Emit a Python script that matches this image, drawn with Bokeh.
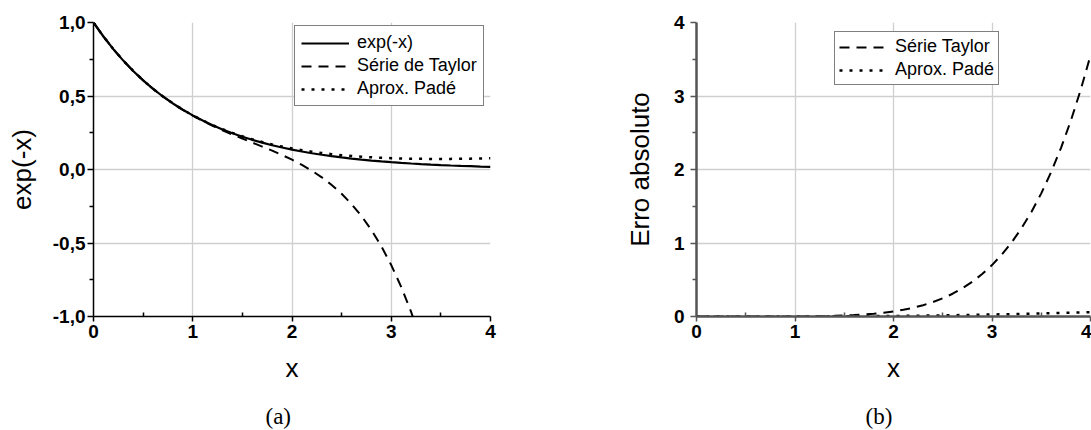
from bokeh.plotting import figure
from bokeh.models import Range1d, FixedTicker, CustomJSTickFormatter, Legend, LegendItem, Title
from bokeh.layouts import row
from bokeh.embed import file_html
from bokeh.resources import INLINE

# ---- data ----
x = [0.0, 0.1, 0.2, 0.3, 0.4, 0.5, 0.6, 0.7, 0.8, 0.9,
     1.0, 1.1, 1.2, 1.3, 1.4, 1.5, 1.6, 1.7, 1.8, 1.9,
     2.0, 2.1, 2.2, 2.3, 2.4, 2.5, 2.6, 2.7, 2.8, 2.9,
     3.0, 3.1, 3.2, 3.3, 3.4, 3.5, 3.6, 3.7, 3.8, 3.9, 4.0]

exp_vals = [1.0, 0.9048, 0.8187, 0.7408, 0.6703, 0.6065, 0.5488, 0.4966, 0.4493, 0.4066,
            0.3679, 0.3329, 0.3012, 0.2725, 0.2466, 0.2231, 0.2019, 0.1827, 0.1653, 0.1496,
            0.1353, 0.1225, 0.1108, 0.1003, 0.0907, 0.0821, 0.0743, 0.0672, 0.0608, 0.0550,
            0.0498, 0.0450, 0.0408, 0.0369, 0.0334, 0.0302, 0.0273, 0.0247, 0.0224, 0.0202, 0.0183]

taylor_x = [0.0, 0.1, 0.2, 0.3, 0.4, 0.5, 0.6, 0.7, 0.8, 0.9,
            1.0, 1.1, 1.2, 1.3, 1.4, 1.5, 1.6, 1.7, 1.8, 1.9,
            2.0, 2.1, 2.2, 2.3, 2.4, 2.5, 2.6, 2.7, 2.8, 2.9,
            3.0, 3.1, 3.2, 3.3]
taylor_vals = [1.0, 0.9048, 0.8187, 0.7408, 0.6703, 0.6065, 0.5488, 0.4964, 0.4490, 0.4059,
               0.3667, 0.3308, 0.2977, 0.2669, 0.2379, 0.2102, 0.1830, 0.1559, 0.1279, 0.0985,
               0.0667, 0.0315, -0.0081, -0.0532, -0.1052, -0.1654, -0.2354, -0.3169, -0.4118, -0.5221,
               -0.6500, -0.7979, -0.9685, -1.1644]

pade_vals = [1.0, 0.9048, 0.8187, 0.7408, 0.6703, 0.6066, 0.5489, 0.4967, 0.4495, 0.4069,
             0.3684, 0.3337, 0.3023, 0.2741, 0.2487, 0.2258, 0.2053, 0.1869, 0.1705, 0.1559,
             0.1429, 0.1313, 0.1212, 0.1123, 0.1045, 0.0977, 0.0920, 0.0871, 0.0830, 0.0796,
             0.0769, 0.0749, 0.0734, 0.0724, 0.0719, 0.0718, 0.0722, 0.0729, 0.0739, 0.0753, 0.0769]

err_taylor = [0.0, 0.0, 0.0, 0.0, 0.00001, 0.00002, 0.00006, 0.00015, 0.00033, 0.00065,
              0.00121, 0.00212, 0.00353, 0.00564, 0.00868, 0.01297, 0.01888, 0.02683, 0.03736, 0.05107,
              0.06867, 0.09096, 0.11887, 0.15345, 0.19587, 0.24745, 0.30966, 0.38411, 0.47261, 0.57711,
              0.69979, 0.84298, 1.00923, 1.20133, 1.42226, 1.67525, 1.96377, 2.29155, 2.66257, 3.08109, 3.55165]

err_pade = [0.0, 0.0, 0.0, 0.0, 0.00001, 0.00003, 0.00006, 0.00012, 0.00021, 0.00035,
            0.00054, 0.00080, 0.00113, 0.00155, 0.00206, 0.00268, 0.00340, 0.00424, 0.00521, 0.00630,
            0.00752, 0.00888, 0.01037, 0.01200, 0.01376, 0.01566, 0.01769, 0.01986, 0.02216, 0.02459,
            0.02714, 0.02981, 0.03260, 0.03550, 0.03851, 0.04163, 0.04484, 0.04815, 0.05155, 0.05504, 0.05861]

x_ticks = [0, 1, 2, 3, 4]
x_minor = [0.5, 1.5, 2.5, 3.5]
ya_ticks = [-1.0, -0.5, 0.0, 0.5, 1.0]
ya_minor = [-0.75, -0.25, 0.25, 0.75]
yb_ticks = [0, 1, 2, 3, 4]
yb_minor = [0.5, 1.5, 2.5, 3.5]

labels_a = ["exp(-x)", "Série de Taylor", "Aprox. Padé"]
labels_b = ["Série Taylor", "Aprox. Padé"]
captions = ["(a)", "(b)"]

SANS = "Liberation Sans"
SERIF = "Liberation Serif"
DASH = "10 7"
DOT = "3 7"


def style(p, axis_color, axis_width, xgrid, ygrid, ylab_standoff, ytick_standoff):
    p.outline_line_color = None
    p.background_fill_color = "white"
    p.border_fill_color = "white"
    for ax in (p.xaxis[0], p.yaxis[0]):
        ax.axis_line_color = axis_color
        ax.axis_line_width = axis_width
        ax.major_tick_line_color = axis_color
        ax.minor_tick_line_color = axis_color
        ax.major_tick_line_width = 1.5
        ax.minor_tick_line_width = 1.5
        ax.major_label_text_font = SANS
        ax.major_label_text_font_style = "bold"
        ax.major_label_text_font_size = "19px"
        ax.major_label_text_color = "black"
        ax.axis_label_text_font = SANS
        ax.axis_label_text_font_style = "normal"
        ax.axis_label_text_font_size = "26px"
        ax.axis_label_text_color = "black"
    xa = p.xaxis[0]
    xa.major_tick_out = 5
    xa.major_tick_in = 0
    xa.minor_tick_in = 4
    xa.minor_tick_out = 0
    xa.major_label_standoff = 3
    xa.axis_label_standoff = 12
    ya = p.yaxis[0]
    ya.major_tick_out = 6
    ya.major_tick_in = 0
    ya.minor_tick_out = 4
    ya.minor_tick_in = 0
    ya.major_label_standoff = ytick_standoff
    ya.axis_label_standoff = ylab_standoff
    p.xgrid.ticker = FixedTicker(ticks=xgrid)
    p.ygrid.ticker = FixedTicker(ticks=ygrid)
    for g in (p.xgrid[0], p.ygrid[0]):
        g.grid_line_color = "#cfcfcf"
        g.grid_line_width = 1.3


def caption(p, text, dx):
    # small blank spacer, then the caption itself
    p.add_layout(Title(text="\u00a0", standoff=0, text_font=SERIF, text_font_size="12px",
                       text_color="white"), "below")
    p.add_layout(Title(text=text, align="left", offset=dx, standoff=0,
                       text_font=SERIF, text_font_size="23px", text_font_style="normal",
                       text_color="black"), "below")


# ---------------- panel (a) ----------------
pa = figure(width=545, height=430, output_backend="svg", toolbar_location=None,
            x_range=Range1d(0, 4), y_range=Range1d(-1, 1),
            min_border_left=93, min_border_right=55, min_border_top=22, min_border_bottom=114,
            x_axis_label="x", y_axis_label="exp(-x)")
pa.xaxis.ticker = FixedTicker(ticks=x_ticks, minor_ticks=x_minor)
pa.yaxis.ticker = FixedTicker(ticks=ya_ticks, minor_ticks=ya_minor)
pa.yaxis.formatter = CustomJSTickFormatter(code="return tick.toFixed(1).replace('.', ',');")
style(pa, "black", 1.5, [1, 2, 3], [-0.5, 0.0, 0.5], 13, 2)

r1 = pa.line(x, exp_vals, line_color="black", line_width=2.2)
r2 = pa.line(taylor_x, taylor_vals, line_color="black", line_width=2, line_dash=DASH)
r3 = pa.line(x, pade_vals, line_color="black", line_width=2.5, line_dash=DOT)

leg_a = Legend(items=[LegendItem(label=labels_a[0], renderers=[r1]),
                      LegendItem(label=labels_a[1], renderers=[r2]),
                      LegendItem(label=labels_a[2], renderers=[r3])],
               location=(201, 210), margin=0, padding=6, spacing=2,
               glyph_width=48, glyph_height=20, label_height=20, label_standoff=8,
               label_text_font=SANS, label_text_font_size="18px", label_text_color="black",
               border_line_color="black", border_line_width=1.2,
               background_fill_color="white", background_fill_alpha=1.0)
pa.add_layout(leg_a, "center")
caption(pa, captions[0], 172)

# ---------------- panel (b) ----------------
pb = figure(width=546, height=430, output_backend="svg", toolbar_location=None,
            x_range=Range1d(0, 4), y_range=Range1d(0, 4),
            min_border_left=151, min_border_right=1, min_border_top=22, min_border_bottom=114,
            x_axis_label="x", y_axis_label="Erro absoluto")
pb.xaxis.ticker = FixedTicker(ticks=x_ticks, minor_ticks=x_minor)
pb.yaxis.ticker = FixedTicker(ticks=yb_ticks, minor_ticks=yb_minor)
style(pb, "#555555", 2.5, [1, 2, 3], [1, 2, 3], 16, 6)

s1 = pb.line(x, err_taylor, line_color="black", line_width=2, line_dash=DASH)
s2 = pb.line(x, err_pade, line_color="black", line_width=2.5, line_dash=DOT)

leg_b = Legend(items=[LegendItem(label=labels_b[0], renderers=[s1]),
                      LegendItem(label=labels_b[1], renderers=[s2])],
               location=(138, 231), margin=0, padding=4, spacing=2,
               glyph_width=48, glyph_height=20, label_height=20, label_standoff=8,
               label_text_font=SANS, label_text_font_size="18px", label_text_color="black",
               border_line_color="black", border_line_width=1.2,
               background_fill_color="white", background_fill_alpha=1.0)
pb.add_layout(leg_b, "center")
caption(pb, captions[1], 169)

layout = row(pa, pb)
open("out.html", "w").write(file_html(layout, INLINE))
